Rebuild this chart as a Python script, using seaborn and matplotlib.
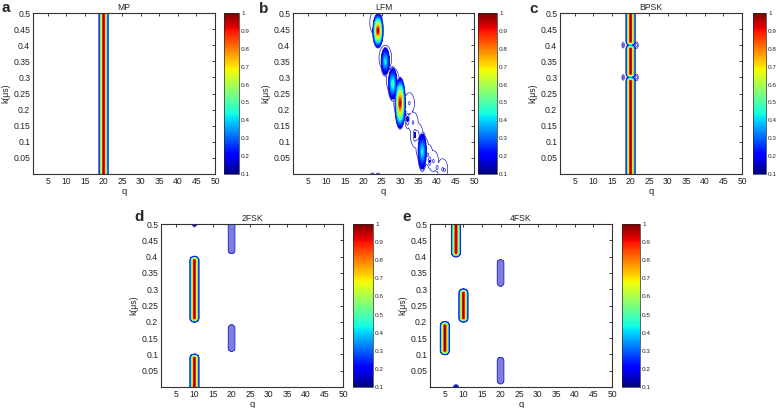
import numpy as np
import seaborn as sns
import matplotlib
matplotlib.use('Agg')
from matplotlib import pyplot as plt
from matplotlib import colors as mcolors
from matplotlib import cm

sns.set_style('white')
plt.rcParams['font.family'] = ['Liberation Sans', 'DejaVu Sans']

# ---- data ----------------------------------------------------------------
# ridges: q centre, k start, k end, peak value
mp_q, mp_klo, mp_khi, mp_peak = [20], [-0.1], [0.6], [1.0]

bpsk_q = [20, 20, 20]
bpsk_klo = [-0.1, 0.312, 0.412]
bpsk_khi = [0.288, 0.388, 0.6]
bpsk_peak = [1.0, 1.0, 1.0]
# little side features of BPSK (circles / arrows at the phase jumps)
bpsk_side_q = [18, 18, 21.6, 21.6, 19.6, 19.6]
bpsk_side_k = [0.3, 0.4, 0.3, 0.4, 0.3, 0.4]
bpsk_side_peak = [0.15, 0.15, 0.15, 0.15, 0.13, 0.13]
bpsk_side_wq = [1.0, 1.0, 1.4, 1.4, 2.6, 2.6]
bpsk_side_wk = [0.026, 0.026, 0.03, 0.03, 0.006, 0.006]

# LFM blobs along the chirp line
lfm_q = [24, 26, 28, 30, 32, 34, 36, 38, 40, 42, 22.5, 24]
lfm_k = [0.445, 0.35, 0.28, 0.22, 0.17, 0.12, 0.07, 0.04, 0.02, 0.012, 0.0, 0.0]
lfm_peak = [1.0, 0.45, 0.5, 1.0, 0.17, 0.17, 0.45, 0.16, 0.15, 0.15, 0.14, 0.14]
lfm_wk = [0.06, 0.06, 0.067, 0.09, 0.07, 0.07, 0.08, 0.06, 0.04, 0.03, 0.01, 0.01]
# faint envelope around the chirp
lfm_halo_q = [23.5, 26, 28, 30, 32.5, 33.5, 34.5, 36, 37.5, 39, 41.5]
lfm_halo_k = [0.47, 0.36, 0.29, 0.22, 0.22, 0.16, 0.12, 0.08, 0.06, 0.04, 0.015]
lfm_halo_peak = [0.14, 0.14, 0.14, 0.14, 0.13, 0.13, 0.14, 0.14, 0.13, 0.13, 0.13]

fsk2_q, fsk2_klo, fsk2_khi, fsk2_peak = [10, 10, 10], [0.212, -0.1, 0.5], [0.388, 0.088, 0.5], [1.0, 1.0, 0.2]
fsk2_faint_q, fsk2_faint_klo, fsk2_faint_khi = [20, 20], [0.42, 0.12], [0.6, 0.18]

fsk4_q, fsk4_klo, fsk4_khi, fsk4_peak = [8, 10, 5, 8], [0.412, 0.212, 0.112, 0.0], [0.6, 0.288, 0.188, 0.0], [1.0, 1.0, 1.0, 0.2]
fsk4_faint_q, fsk4_faint_klo, fsk4_faint_khi = [20, 20], [0.32, 0.02], [0.38, 0.08]

x_ticks = [5, 10, 15, 20, 25, 30, 35, 40, 45, 50]
y_ticks = [0.05, 0.1, 0.15, 0.2, 0.25, 0.3, 0.35, 0.4, 0.45, 0.5]
y_ticklabels = ['0.05', '0.1', '0.15', '0.2', '0.25', '0.3', '0.35', '0.4', '0.45', '0.5']
cb_ticks = [0.1, 0.2, 0.3, 0.4, 0.5, 0.6, 0.7, 0.8, 0.9, 1.0]
cb_ticklabels = ['0.1', '0.2', '0.3', '0.4', '0.5', '0.6', '0.7', '0.8', '0.9', '1']

# ---- grid and fields -----------------------------------------------------
Q, K = np.meshgrid(np.linspace(1, 50, 600), np.linspace(0, 0.5, 600))


def cones(qs, klo, khi, peaks, wq=1.4, wk=0.015):
    # linear fall-off from each ridge / blob, elliptical contours
    Z = np.zeros_like(Q)
    wks = np.broadcast_to(wk, (len(qs),))
    wqs = np.broadcast_to(wq, (len(qs),))
    for qc, a, b, p, sk, sq in zip(qs, klo, khi, peaks, wks, wqs):
        d = np.clip(np.maximum(a - K, K - b), 0, None)
        r = np.sqrt(((Q - qc) / sq) ** 2 + (d / sk) ** 2)
        Z = np.maximum(Z, p * np.clip(1 - r, 0, None))
    return Z


z_mp = cones(mp_q, mp_klo, mp_khi, mp_peak)
z_lfm = np.maximum(cones(lfm_q, lfm_k, lfm_k, lfm_peak, wq=1.6, wk=lfm_wk),
                   cones(lfm_halo_q, lfm_halo_k, lfm_halo_k, lfm_halo_peak, wq=6.0, wk=0.14))
z_bpsk = np.maximum(cones(bpsk_q, bpsk_klo, bpsk_khi, bpsk_peak),
                    cones(bpsk_side_q, bpsk_side_k, bpsk_side_k, bpsk_side_peak,
                          wq=bpsk_side_wq, wk=bpsk_side_wk))
z_2fsk = cones(fsk2_q, fsk2_klo, fsk2_khi, fsk2_peak)
f_2fsk = cones(fsk2_faint_q, fsk2_faint_klo, fsk2_faint_khi, [1, 1], wq=1.0, wk=0.012)
z_4fsk = cones(fsk4_q, fsk4_klo, fsk4_khi, fsk4_peak)
f_4fsk = cones(fsk4_faint_q, fsk4_faint_klo, fsk4_faint_khi, [1, 1], wq=1.0, wk=0.012)

cmap = plt.get_cmap('jet')
fill_levels = list(np.linspace(0.15, 1.0, 35)) + [1.01]
line_levels = [0.1, 0.125]
line_colors = ['#1c1cc0', '#2424dc']

W, H = 778, 408
fig = plt.figure(figsize=(W / 100, H / 100), dpi=100)


def box(x0, y0, x1, y1):
    return [x0 / W, 1 - y1 / H, (x1 - x0) / W, (y1 - y0) / H]


def panel(ax_px, cb_px, Z, title, letter, letter_px, faint=None):
    norm = mcolors.Normalize(0.1, 1.0)  # one per panel, so colorbars keep their labels
    ax = fig.add_axes(box(*ax_px))
    ax.contourf(Q, K, Z, levels=fill_levels, cmap=cmap, norm=norm)
    ax.contour(Q, K, Z, levels=line_levels, colors=line_colors, linewidths=0.5)
    if faint is not None:
        ax.contourf(Q, K, faint, levels=[0.1, 2], colors=['#7d7de0'])
        ax.contour(Q, K, faint, levels=[0.1], colors=['#2424c8'], linewidths=0.6)
    ax.set_xlim(1, 50)
    ax.set_ylim(0, 0.5)
    ax.set_xticks(x_ticks)
    ax.set_yticks(y_ticks)
    ax.set_yticklabels(y_ticklabels)
    ax.tick_params(direction='in', top=True, right=True, length=2.5, width=0.6,
                   labelsize=6.2, pad=2, colors='#222222')
    for s in ax.spines.values():
        s.set_linewidth(0.8)
        s.set_color('#333333')
    ax.set_title(title, fontsize=6.2, pad=2)
    ax.set_xlabel('q', fontsize=6.8, labelpad=1)
    ax.set_ylabel('k(\u03bcs)', fontsize=6.2, labelpad=2)

    cax = fig.add_axes(box(*cb_px))
    cb = fig.colorbar(cm.ScalarMappable(norm=norm, cmap=cmap), cax=cax)
    cb.set_ticks(cb_ticks, labels=cb_ticklabels)
    cb.ax.tick_params(labelsize=4.6, length=0, pad=1.5)
    cb.outline.set_linewidth(0.5)
    fig.text(letter_px[0] / W, 1 - letter_px[1] / H, letter, fontsize=11,
             fontweight='bold', ha='left', va='baseline')
    return ax


panel((33, 13, 215, 174), (224, 13, 239, 174), z_mp, 'MP', 'a', (1, 12))
panel((293, 13, 474, 174), (478, 13, 497, 174), z_lfm, 'LFM', 'b', (259, 13))
panel((560, 13, 742, 174), (753, 13, 766, 174), z_bpsk, 'BPSK', 'c', (529, 13))
panel((161, 224, 343, 387), (353, 224, 373, 387), z_2fsk, '2FSK', 'd', (134, 221), faint=f_2fsk)
panel((430, 224, 612, 387), (622, 224, 640, 387), z_4fsk, '4FSK', 'e', (402, 221), faint=f_4fsk)

fig.savefig('out.png', dpi=100)
